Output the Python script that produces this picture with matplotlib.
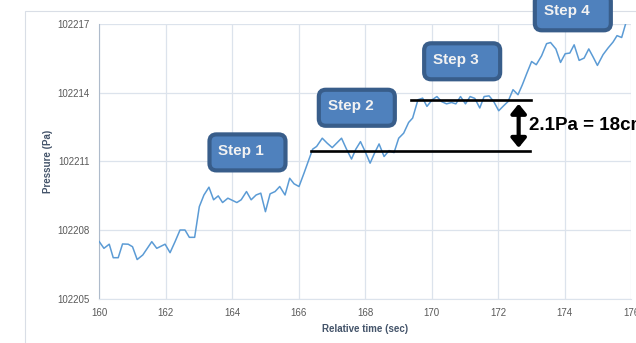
import matplotlib
matplotlib.use("Agg")
import matplotlib.pyplot as plt
from matplotlib.patches import FancyBboxPatch, Rectangle
from matplotlib.transforms import IdentityTransform

plt.rcParams['font.family'] = ['Liberation Sans', 'DejaVu Sans']

# pressure trace
time_s = [160.00, 160.14, 160.30, 160.42, 160.57, 160.70, 160.87, 161.00, 161.14, 161.31,
          161.58, 161.73, 161.98, 162.13, 162.28, 162.43, 162.58, 162.71, 162.87, 163.01,
          163.15, 163.30, 163.44, 163.58, 163.71, 163.87, 164.14, 164.27, 164.43, 164.57,
          164.72, 164.86, 165.00, 165.14, 165.29, 165.43, 165.59, 165.73, 165.86, 166.01,
          166.16, 166.42, 166.54, 166.71, 166.86, 167.01, 167.29, 167.44, 167.59, 167.72,
          167.86, 168.00, 168.15, 168.29, 168.42, 168.57, 168.72, 168.87, 169.01, 169.16,
          169.31, 169.43, 169.59, 169.73, 169.86, 170.02, 170.16, 170.30, 170.45, 170.60,
          170.73, 170.87, 171.02, 171.16, 171.30, 171.45, 171.58, 171.73, 171.87, 172.02,
          172.17, 172.30, 172.45, 172.60, 172.73, 172.87, 173.01, 173.15, 173.31, 173.46,
          173.58, 173.74, 173.88, 174.02, 174.16, 174.29, 174.44, 174.59, 174.73, 174.86,
          174.99, 175.16, 175.31, 175.46, 175.58, 175.72, 175.84]
pressure_pa = [102207.49, 102207.20, 102207.38, 102206.79, 102206.79, 102207.39, 102207.38, 102207.27, 102206.71, 102206.91,
               102207.49, 102207.20, 102207.38, 102207.01, 102207.49, 102208.00, 102208.00, 102207.68, 102207.68, 102209.02,
               102209.53, 102209.87, 102209.32, 102209.49, 102209.20, 102209.39, 102209.20, 102209.32, 102209.68, 102209.32,
               102209.53, 102209.61, 102208.80, 102209.58, 102209.68, 102209.90, 102209.53, 102210.26, 102210.02, 102209.90,
               102210.48, 102211.53, 102211.65, 102212.01, 102211.79, 102211.60, 102212.01, 102211.53, 102211.10, 102211.53,
               102211.86, 102211.43, 102210.92, 102211.38, 102211.76, 102211.21, 102211.47, 102211.38, 102212.01, 102212.23,
               102212.70, 102212.89, 102213.69, 102213.76, 102213.40, 102213.69, 102213.83, 102213.61, 102213.51, 102213.57,
               102213.51, 102213.83, 102213.51, 102213.83, 102213.75, 102213.33, 102213.83, 102213.86, 102213.61, 102213.21,
               102213.43, 102213.61, 102214.13, 102213.91, 102214.34, 102214.86, 102215.36, 102215.22, 102215.61, 102216.14,
               102216.19, 102215.91, 102215.32, 102215.70, 102215.73, 102216.09, 102215.41, 102215.51, 102215.91, 102215.56,
               102215.19, 102215.66, 102215.95, 102216.21, 102216.49, 102216.41, 102217.01]

x_ticks = [160, 162, 164, 166, 168, 170, 172, 174, 176]
y_ticks = [102205, 102208, 102211, 102214, 102217]

step_labels = ["Step 1", "Step 2", "Step 3", "Step 4"]
step_centers = [(164.46, 102211.39), (167.75, 102213.34), (170.92, 102215.37), (174.25, 102217.51)]

level_low, level_high = 102211.43, 102213.66
diff_label = "2.1Pa = 18cm"

fig = plt.figure(figsize=(6.36, 3.43), dpi=100)
ax = fig.add_axes([0.1561, 0.1292, 0.836, 0.8009])

# outer chart frame (cropped on right/bottom)
fig.patches.append(Rectangle((25 / 636, -0.2), 1.2, 0.2 + 1 - 11 / 343, transform=fig.transFigure,
                             fill=False, ec='#D9DEE6', lw=0.8))

ax.plot(time_s, pressure_pa, color='#5B9BD5', lw=1.1, zorder=3)

ax.set_xlim(160, 176)
ax.set_ylim(102205, 102217)
ax.set_xticks(x_ticks)
ax.set_yticks(y_ticks)
ax.set_xticklabels([str(t) for t in x_ticks])
ax.set_yticklabels([str(t) for t in y_ticks])
ax.grid(True, color='#DCE3EC', lw=0.9)
ax.set_axisbelow(True)
for s in ['top', 'right']:
    ax.spines[s].set_visible(False)
ax.spines['left'].set_color('#AEBBCB')
ax.spines['bottom'].set_color('#DCE3EC')
ax.tick_params(length=0, labelsize=7, colors='#595959', pad=7)

ax.set_xlabel("Relative time (sec)", fontsize=7, fontweight='bold', color='#44546A')
ax.set_ylabel("Pressure (Pa)", fontsize=7, fontweight='bold', color='#44546A')
ax.xaxis.set_label_coords(0.5, -0.110)
ax.xaxis.label.set_va('center')
ax.yaxis.set_label_coords(-0.0965, 0.5)
ax.yaxis.label.set_va('center')

# reference levels and the difference arrow
ax.plot([166.38, 172.97], [level_low, level_low], color='black', lw=1.9, zorder=4)
ax.plot([169.37, 173.0], [level_high, level_high], color='black', lw=1.9, zorder=4)
ax.annotate("", xy=(172.62, 102213.51), xytext=(172.62, 102211.59),
            arrowprops=dict(arrowstyle='<|-|>,head_width=0.45,head_length=0.55', color='black',
                            lw=3, shrinkA=0, shrinkB=0), zorder=5)
ax.text(172.92, 102212.55, diff_label, fontsize=13.5, fontweight='bold', va='center', ha='left',
        color='black', clip_on=False)

# step boxes, drawn in pixel space so corners stay round
box_w, box_h = 76, 36
for label, (cx, cy) in zip(step_labels, step_centers):
    px, py = ax.transData.transform((cx, cy))
    box = FancyBboxPatch((px - box_w / 2, py - box_h / 2), box_w, box_h,
                         boxstyle='round,pad=0,rounding_size=7', transform=IdentityTransform(),
                         fc='#4F81BD', ec='#385D8A', lw=3, zorder=6)
    fig.patches.append(box)
    fig.text((px - box_w / 2 + 9) / 636, (py + 1.5) / 343, label, fontsize=11, fontweight='bold',
             color='#F2F2F2', va='center', ha='left', zorder=7)

fig.savefig("out.png", dpi=100)
